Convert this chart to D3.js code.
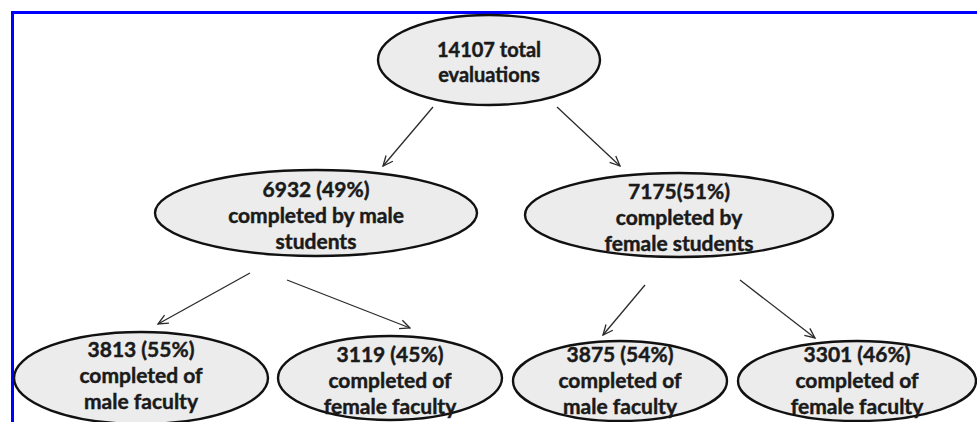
<!DOCTYPE html>
<html>
<head>
<meta charset="utf-8">
<script src="https://cdn.jsdelivr.net/npm/d3@7"></script>
<style>
  body { margin: 0; background: #fff; }
  svg { display: block; }
  .node text { font-family: Lato, "Open Sans", sans-serif; font-weight: 700; fill: #1a1a1a; stroke: #1a1a1a; stroke-width: 0.45px; }
</style>
</head>
<body>
<svg id="chart"></svg>
<script>
// counts of evaluations in the tree (root, students, faculty)
let counts   = [14107, 6932, 7175, 3813, 3119, 3875, 3301]
let percents = [null, "49%", "51%", "55%", "45%", "54%", "46%"]
let noSpace  = [false, false, true, false, false, false, false]
let captions = [
  ["total", "evaluations"],
  ["completed by male", "students"],
  ["completed by", "female students"],
  ["completed of", "male faculty"],
  ["completed of", "female faculty"],
  ["completed of", "male faculty"],
  ["completed of", "female faculty"]
]
let parents = [null, 0, 0, 1, 1, 2, 2]

// layout (design grid units, fed through the scales below)
let nodeX  = [489, 316, 679, 141, 390, 620, 857]
let nodeY  = [60, 213, 215, 378, 378, 381, 381]
let nodeRx = [111, 161, 154, 127, 112, 107, 119]
let nodeRy = [45, 43, 42, 46, 42, 40, 40]
// arrow start/end in the same grid, one per child node (index 1..6)
let arrowFrom = [null, [433, 107], [557, 107], [250, 273], [287, 280], [645, 285], [740, 280]]
let arrowTo   = [null, [383, 166], [620, 166], [158, 324], [410, 328], [603, 335], [815, 338]]
// first text baseline per node
let textTop = [57, 197, 199, 357, 362, 362, 362]

let width = 977
let height = 422
let lineGap = 26

let x = d3.scaleLinear().domain([0, 977]).range([0, width])
let y = d3.scaleLinear().domain([0, 422]).range([0, height])

let svg = d3.select("#chart")
  .attr("width", width)
  .attr("height", height)

// blue frame (top and left only visible)
svg.append("path")
  .attr("d", "M" + x(12.5) + "," + height + "V" + y(12.5) + "H" + width)
  .attr("fill", "none")
  .attr("stroke", "#0000ff")
  .attr("stroke-width", 3)

let defs = svg.append("defs")
defs.append("marker")
  .attr("id", "head")
  .attr("viewBox", "0 0 12 12")
  .attr("refX", 11)
  .attr("refY", 6)
  .attr("markerWidth", 12)
  .attr("markerHeight", 12)
  .attr("markerUnits", "userSpaceOnUse")
  .attr("orient", "auto")
  .append("path")
  .attr("d", "M1,1.5 L11,6 L1,10.5")
  .attr("fill", "none")
  .attr("stroke", "#2a2a2a")
  .attr("stroke-width", 1.3)

let nodes = counts.map(function(c, i) {
  let first = i === 0 ? c + " " + captions[i][0]
            : c + (noSpace[i] ? "" : " ") + "(" + percents[i] + ")"
  let lines = i === 0 ? [first, captions[i][1]] : [first].concat(captions[i])
  return { i: i, lines: lines }
})

svg.selectAll("line.arrow")
  .data(nodes.filter(function(d) { return parents[d.i] !== null }))
  .enter()
  .append("line")
  .attr("class", "arrow")
  .attr("x1", function(d) { return x(arrowFrom[d.i][0]) })
  .attr("y1", function(d) { return y(arrowFrom[d.i][1]) })
  .attr("x2", function(d) { return x(arrowTo[d.i][0]) })
  .attr("y2", function(d) { return y(arrowTo[d.i][1]) })
  .attr("stroke", "#2a2a2a")
  .attr("stroke-width", 1.3)
  .attr("marker-end", "url(#head)")

let g = svg.selectAll("g.node")
  .data(nodes)
  .enter()
  .append("g")
  .attr("class", "node")

g.append("ellipse")
  .attr("cx", function(d) { return x(nodeX[d.i]) })
  .attr("cy", function(d) { return y(nodeY[d.i]) })
  .attr("rx", function(d) { return nodeRx[d.i] })
  .attr("ry", function(d) { return nodeRy[d.i] })
  .attr("fill", "#ececec")
  .attr("stroke", "#111")
  .attr("stroke-width", 2.4)

g.each(function(d) {
  let sel = d3.select(this)
  d.lines.forEach(function(t, k) {
    sel.append("text")
      .attr("x", x(nodeX[d.i]))
      .attr("y", y(textTop[d.i] + k * (d.i === 0 ? 25 : lineGap)))
      .attr("text-anchor", "middle")
      .attr("font-size", d.i === 0 ? 20 : 21)
      .text(t)
  })
})
</script>
</body>
</html>
